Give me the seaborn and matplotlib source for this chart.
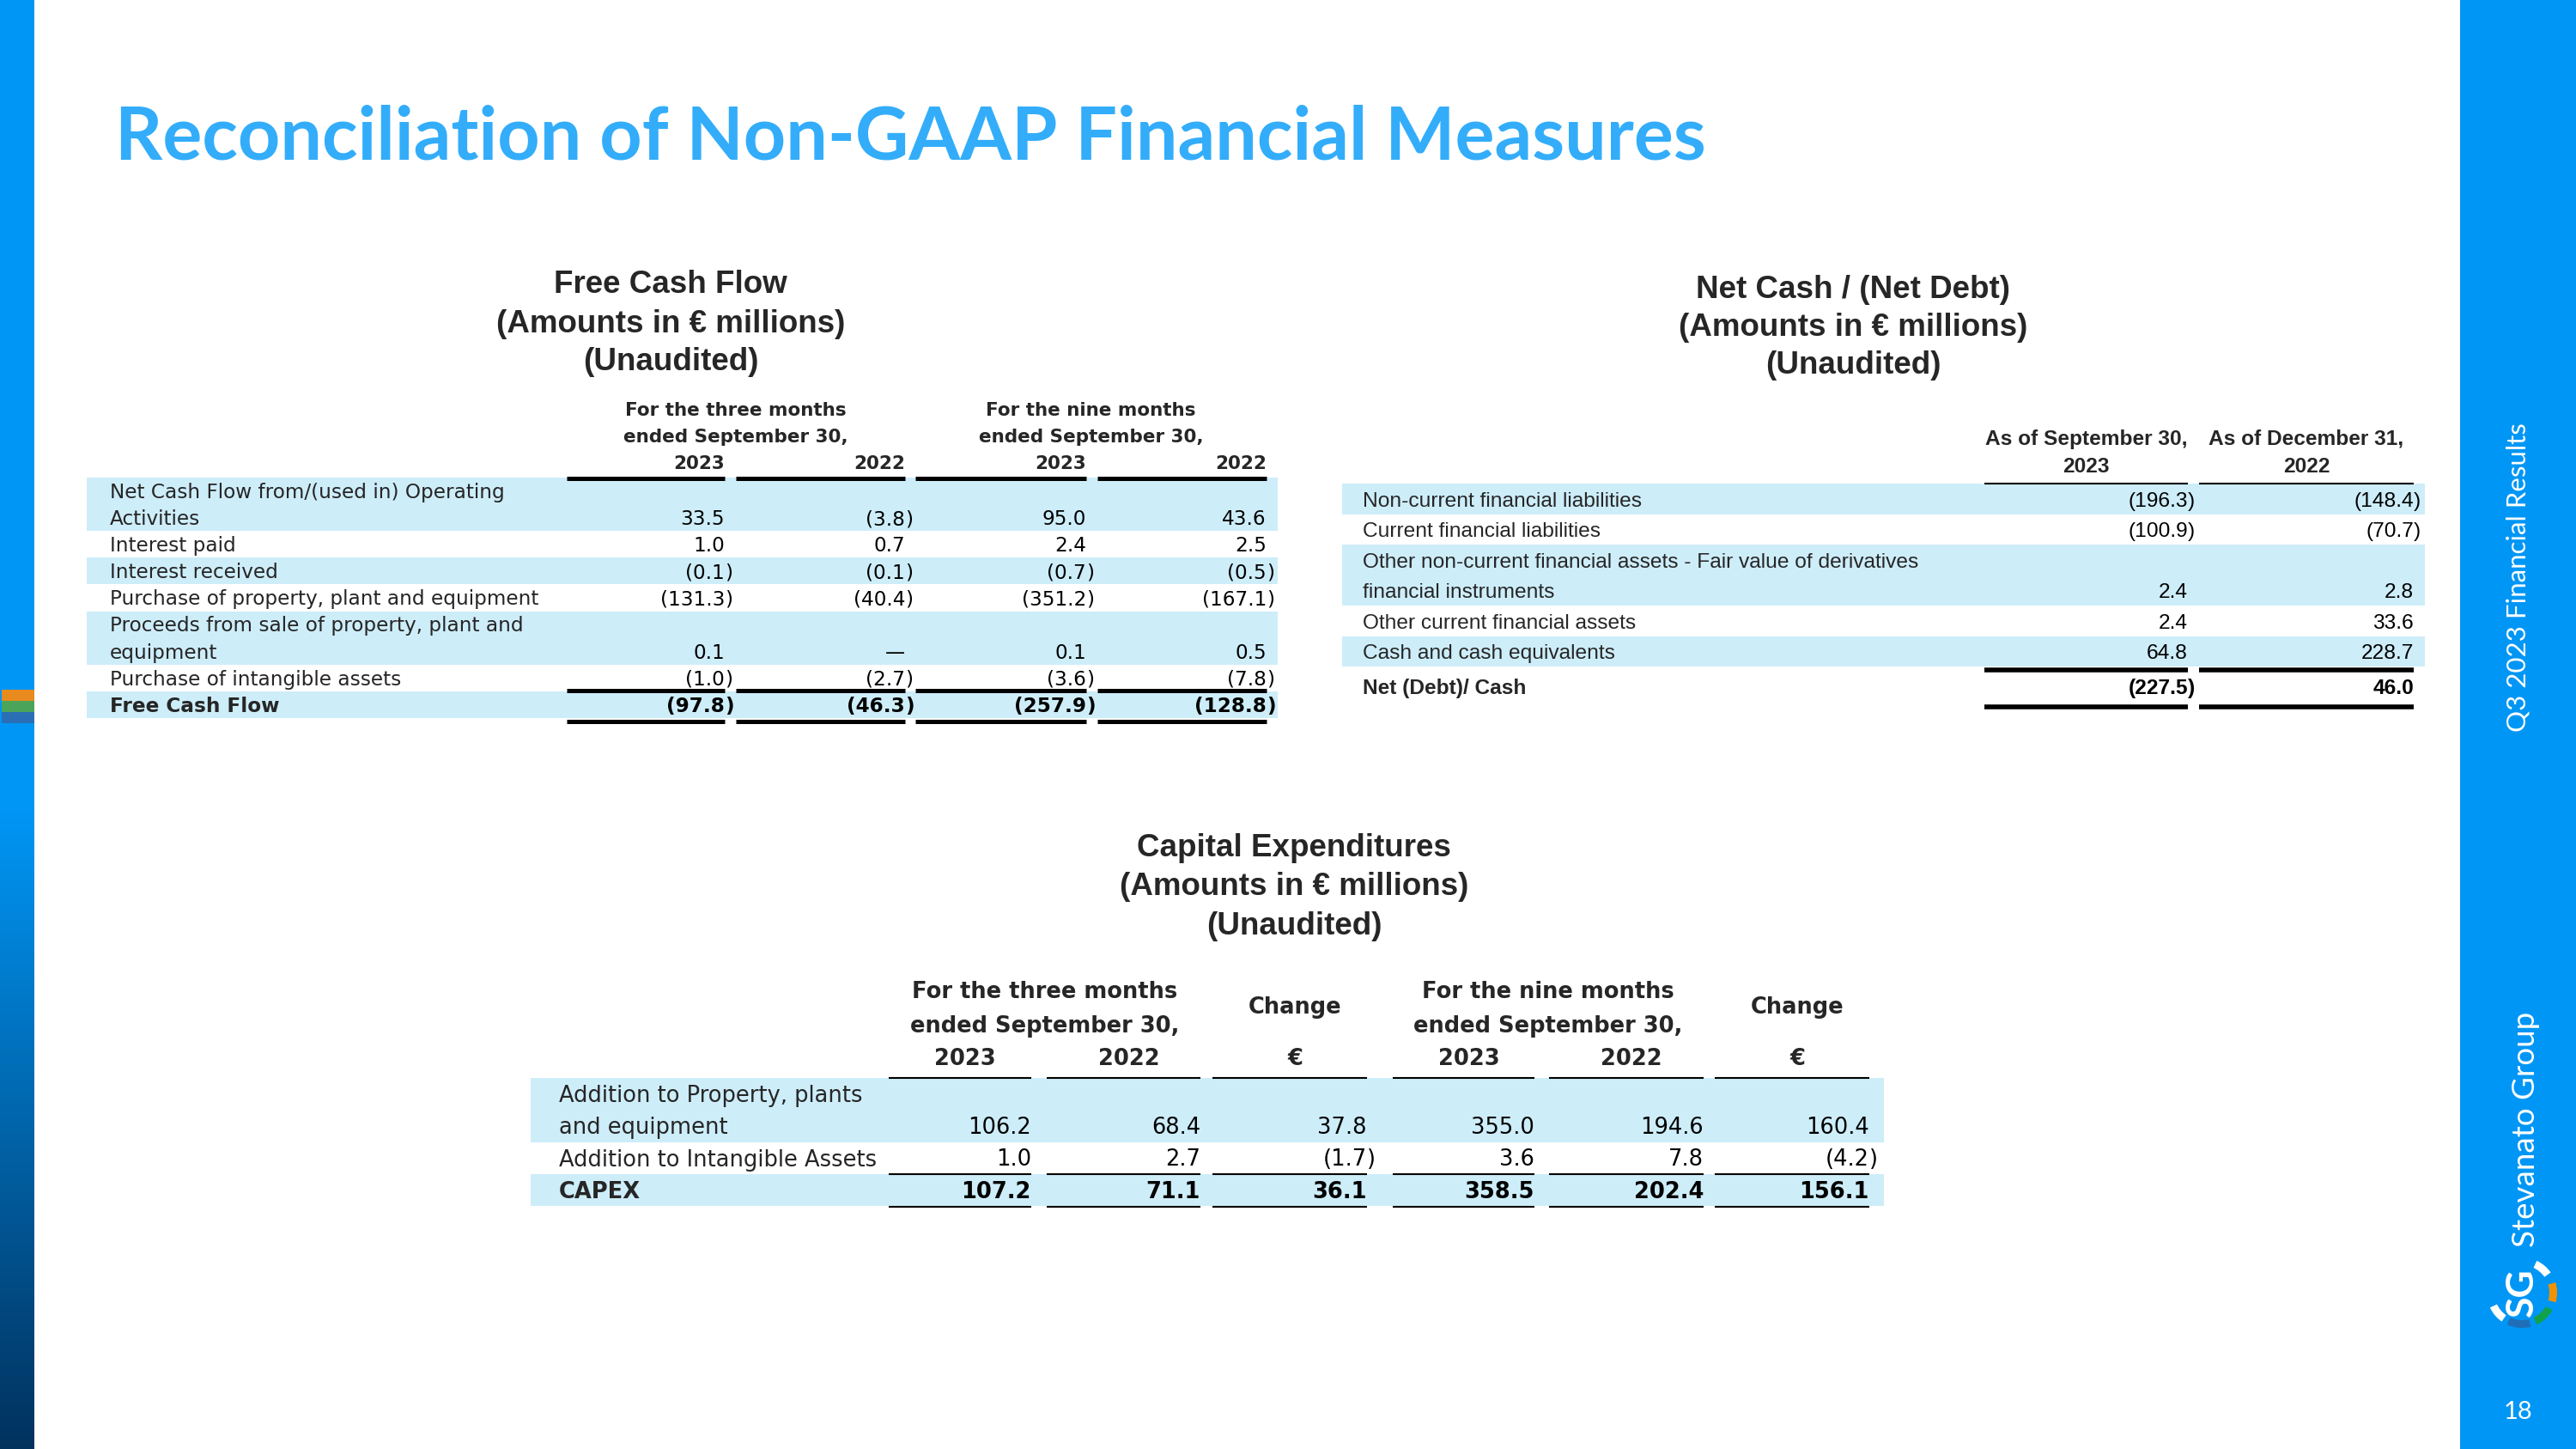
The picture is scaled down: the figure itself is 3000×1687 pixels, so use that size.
import numpy as np
import matplotlib
matplotlib.use("Agg")
import matplotlib.pyplot as plt
import seaborn as sns
from matplotlib import font_manager
from matplotlib.patches import Wedge

sns.set_theme(style="white")
plt.rcParams["font.family"] = ["DejaVu Sans"]

# ---- data -------------------------------------------------------------
fcf_labels = ["Net Cash Flow from/(used in) Operating\nActivities", "Interest paid",
              "Interest received", "Purchase of property, plant and equipment",
              "Proceeds from sale of property, plant and\nequipment",
              "Purchase of intangible assets", "Free Cash Flow"]
fcf_3m_2023 = [33.5, 1.0, -0.1, -131.3, 0.1, -1.0, -97.8]
fcf_3m_2022 = [-3.8, 0.7, -0.1, -40.4, None, -2.7, -46.3]
fcf_9m_2023 = [95.0, 2.4, -0.7, -351.2, 0.1, -3.6, -257.9]
fcf_9m_2022 = [43.6, 2.5, -0.5, -167.1, 0.5, -7.8, -128.8]

net_labels = ["Non-current financial liabilities", "Current financial liabilities",
              "Other non-current financial assets - Fair value of derivatives\nfinancial instruments",
              "Other current financial assets", "Cash and cash equivalents", "Net (Debt)/ Cash"]
net_sep_2023 = [-196.3, -100.9, 2.4, 2.4, 64.8, -227.5]
net_dec_2022 = [-148.4, -70.7, 2.8, 33.6, 228.7, 46.0]

capex_labels = ["Addition to Property, plants\nand equipment", "Addition to Intangible Assets", "CAPEX"]
capex_3m_2023 = [106.2, 1.0, 107.2]
capex_3m_2022 = [68.4, 2.7, 71.1]
capex_3m_chg = [37.8, -1.7, 36.1]
capex_9m_2023 = [355.0, 3.6, 358.5]
capex_9m_2022 = [194.6, 7.8, 202.4]
capex_9m_chg = [160.4, -4.2, 156.1]

# ---- style ------------------------------------------------------------
BAND = "#CDEDF9"
BLUE = "#0096F5"
TITLE_C = "#33ADFA"
names = {f.name for f in font_manager.fontManager.ttflist}
if "Liberation Sans Narrow" in names:
    NARROW, NSCALE = "Liberation Sans Narrow", 1.0
else:
    NARROW, NSCALE = "Liberation Sans", 0.86
HEAD = "Liberation Sans"

W, H = 3000, 1687
fig = plt.figure(figsize=(W / 100, H / 100), dpi=100)
ax = fig.add_axes([0, 0, 1, 1])
ax.set_xlim(0, W)
ax.set_ylim(H, 0)
ax.axis("off")


def fmt_num(ax, xr, y, v, size, family, bold=False):
    kw = dict(fontsize=size, family=family, va="baseline", color="black",
              fontweight="bold" if bold else "normal")
    yb = y + 0.5 * size
    if v is None:
        ax.text(xr, yb, "\u2014", ha="right", **kw)
    elif v < 0:
        ax.text(xr, yb, "(" + f"{abs(v):.1f}", ha="right", **kw)
        ax.text(xr, yb, ")", ha="left", **kw)
    else:
        ax.text(xr, yb, f"{v:.1f}", ha="right", **kw)


def draw_table(ax, labels, columns, col_spans, top, lh, lines, shaded, x0, x1, lab_x,
               size, family, bold_last=True, last_h=None):
    y = top
    n = len(labels)
    for i, lab in enumerate(labels):
        is_last = i == n - 1
        h = last_h if (is_last and last_h is not None) else lh * lines[i]
        if shaded[i]:
            ax.barh(y + h / 2, x1 - x0, left=x0, height=h, color=BAND, lw=0, zorder=0)
        bold = bold_last and is_last
        step = h / lines[i]
        for k, p in enumerate(lab.split("\n")):
            cy = y + (k + 0.5) * step
            ax.text(lab_x, cy + 0.5 * size, p, fontsize=size, family=family, va="baseline",
                    fontweight="bold" if bold else "normal")
        cy = y + h - step / 2
        for vals, (cl, cr) in zip(columns, col_spans):
            fmt_num(ax, cr, cy, vals[i], size, family, bold)
        y += h
    return y


# ---- page furniture ----------------------------------------------------
grad = np.ones((400, 1, 3))
top_c = np.array([0, 150, 245]) / 255
bot_c = np.array([2, 50, 94]) / 255
t = np.clip((np.linspace(0, 1, 400) - 0.56) / 0.44, 0, 1)[:, None]
grad[:, 0, :] = top_c * (1 - t) + bot_c * t
ax.imshow(grad, extent=[0, 40, H, 0], aspect="auto", zorder=1)
for y0, c in zip([803, 816, 829], ["#E88A1E", "#4AA55A", "#2A6FB5"]):
    ax.barh(y0 + 6.5, 38, left=2, height=13, color=c, lw=0, zorder=2)
ax.barh(H / 2, W - 2865, left=2865, height=H, color=BLUE, lw=0, zorder=1)
ax.text(2933, 672, "Q3 2023 Financial Results", rotation=90, ha="center", va="center",
        color="white", fontsize=22.5, family="Lato", zorder=3)
ax.text(2942, 1315, "Stevanato Group", rotation=90, ha="center", va="center",
        color="white", fontsize=26.5, family="Lato", zorder=3)
ax.text(2937, 1505, "SG", rotation=90, ha="center", va="center", color="white",
        fontsize=32, family="Lato", fontweight="bold", zorder=3)
for a0, a1, c in [(-65, -35, "white"), (-17, 16, "#F39200"), (30, 65, "#12A14B"),
                  (75, 115, "#1F6FB8"), (125, 155, "white")]:
    ax.add_patch(Wedge((2937, 1505), 41, a0, a1, width=9, color=c, lw=0, zorder=3))
ax.text(2933, 1644, "18", ha="center", va="center", color="white", fontsize=21,
        family="Lato", zorder=3)

ax.text(134, 185, "Reconciliation of Non-GAAP Financial Measures", ha="left", va="baseline",
        color=TITLE_C, fontsize=62, family="Lato", fontweight="bold")

# ---- section headings --------------------------------------------------
for cx, ys, title in [(781, (331, 377, 421), "Free Cash Flow"),
                      (2158, (337, 381, 425), "Net Cash / (Net Debt)"),
                      (1507, (987, 1033, 1079), "Capital Expenditures")]:
    for yy, s in zip(ys, [title, "(Amounts in \u20ac millions)", "(Unaudited)"]):
        ax.text(cx, yy, s, ha="center", va="center", fontsize=26.5, family=HEAD,
                fontweight="bold")

# ---- Free Cash Flow table ----------------------------------------------
fcf_spans = [(660, 844), (857, 1054), (1066, 1265), (1278, 1475)]
hb = dict(fontsize=15.5, family="DejaVu Sans", fontweight="bold", va="center")
for (a, b), (c, d) in [(fcf_spans[0], fcf_spans[1]), (fcf_spans[2], fcf_spans[3])]:
    ax.text((a + d) / 2, 478, "For the three months" if a == 660 else "For the nine months",
            ha="center", **hb)
    ax.text((a + d) / 2, 509, "ended September 30,", ha="center", **hb)
for (a, b), yr in zip(fcf_spans, ["2023", "2022", "2023", "2022"]):
    ax.text(b, 540, yr, ha="right", **hb)
ax.hlines([557] * 4, [s[0] for s in fcf_spans], [s[1] for s in fcf_spans], color="black", lw=3.6)
draw_table(ax, fcf_labels, [fcf_3m_2023, fcf_3m_2022, fcf_9m_2023, fcf_9m_2022], fcf_spans,
           556, 31.1, [2, 1, 1, 1, 2, 1, 1], [1, 0, 1, 0, 1, 0, 1], 101, 1488, 128,
           16.7, "DejaVu Sans")
ax.hlines([804] * 4, [s[0] for s in fcf_spans], [s[1] for s in fcf_spans], color="black", lw=3.6)
ax.hlines([840] * 4, [s[0] for s in fcf_spans], [s[1] for s in fcf_spans], color="black", lw=3.6)

# ---- Net Cash table ----------------------------------------------------
net_spans = [(2311, 2548), (2561, 2811)]
nh = dict(fontsize=20.5 * NSCALE, family=NARROW, fontweight="bold", va="center", ha="center")
for (a, b), l1, yr in zip(net_spans, ["As of September 30,", "As of December 31,"], ["2023", "2022"]):
    ax.text((a + b) / 2, 511, l1, **nh)
    ax.text((a + b) / 2, 543, yr, **nh)
ax.hlines([563] * 2, [s[0] for s in net_spans], [s[1] for s in net_spans], color="black", lw=1.5)
draw_table(ax, net_labels, [net_sep_2023, net_dec_2022], net_spans, 563, 35.5,
           [1, 1, 2, 1, 1, 1], [1, 0, 1, 0, 1, 0], 1563, 2824, 1587, 20.5 * NSCALE, NARROW,
           last_h=46)
ax.hlines([780] * 2, [s[0] for s in net_spans], [s[1] for s in net_spans], color="black", lw=4)
ax.hlines([823] * 2, [s[0] for s in net_spans], [s[1] for s in net_spans], color="black", lw=4)

# ---- Capex table -------------------------------------------------------
cap_spans = [(1035, 1201), (1219, 1398), (1412, 1592), (1622, 1787), (1804, 1984), (1997, 2177)]
ch = dict(fontsize=18.5, family="DejaVu Sans", fontweight="bold", va="center", ha="center")
ax.text((1035 + 1398) / 2, 1155, "For the three months", **ch)
ax.text((1035 + 1398) / 2, 1195, "ended September 30,", **ch)
ax.text((1622 + 1984) / 2, 1155, "For the nine months", **ch)
ax.text((1622 + 1984) / 2, 1195, "ended September 30,", **ch)
for (a, b), s in zip(cap_spans, ["2023", "2022", "\u20ac", "2023", "2022", "\u20ac"]):
    ax.text((a + b) / 2 + 6, 1233, s, **ch)
for (a, b) in [cap_spans[2], cap_spans[5]]:
    ax.text((a + b) / 2 + 6, 1173, "Change", **ch)
ax.hlines([1255] * 6, [s[0] for s in cap_spans], [s[1] for s in cap_spans], color="black", lw=1.5)
draw_table(ax, capex_labels, [capex_3m_2023, capex_3m_2022, capex_3m_chg, capex_9m_2023,
                              capex_9m_2022, capex_9m_chg], cap_spans, 1255, 37.3, [2, 1, 1],
           [1, 0, 1], 618, 2194, 651, 18.5, "DejaVu Sans")
ax.hlines([1367] * 6, [s[0] for s in cap_spans], [s[1] for s in cap_spans], color="black", lw=1.5)
ax.hlines([1405] * 6, [s[0] for s in cap_spans], [s[1] for s in cap_spans], color="black", lw=1.5)

fig.savefig("out.png", dpi=100)
